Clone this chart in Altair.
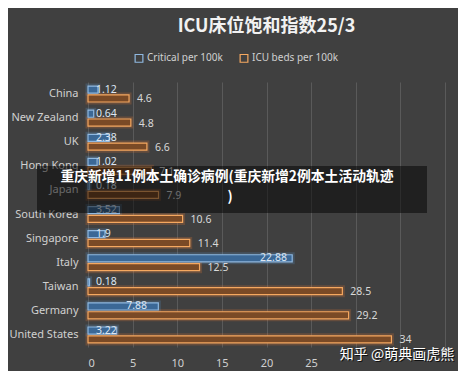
import altair as alt
import pandas as pd

countries = ["China", "New Zealand", "UK", "Hong Kong", "Japan", "South Korea",
             "Singapore", "Italy", "Taiwan", "Germany", "United States"]
critical = [1.12, 0.64, 2.38, 1.02, 0.18, 3.52, 1.9, 22.88, 0.18, 7.88, 3.22]
icu_beds = [4.6, 4.8, 6.6, 7.1, 7.9, 10.6, 11.4, 12.5, 28.5, 29.2, 34]
series_names = ["Critical per 100k", "ICU beds per 100k"]
x_ticks = [0, 5, 10, 15, 20, 25, 30, 35, 40]
title_text = "ICU床位饱和指数25/3"
banner_line1 = "重庆新增11例本土确诊病例(重庆新增2例本土活动轨迹"
banner_line2 = ")"
watermark = "知乎 @萌典画虎熊"

rows = []
for c, v in zip(countries, critical):
    rows.append({"country": c, "series": series_names[0], "value": v})
for c, v in zip(countries, icu_beds):
    rows.append({"country": c, "series": series_names[1], "value": v})
df = pd.DataFrame(rows)

BG = "#404040"
FONT = "Noto Sans"
CJK = "Noto Sans CJK SC"

x_enc = alt.X("value:Q", scale=alt.Scale(domain=[0, 40], nice=False),
              axis=alt.Axis(values=x_ticks, title=None, grid=True, gridColor="#5a5a5a",
                            domain=False, ticks=False, labelColor="#d0d0d0",
                            labelFontSize=11, labelFont=FONT, labelPadding=10,
                            labelExpr="datum.value >= 30 ? '' : datum.label"))
y_enc = alt.Y("country:N", sort=countries,
              scale=alt.Scale(paddingInner=0.34, paddingOuter=0.17),
              axis=alt.Axis(title=None, domain=False, ticks=False, grid=False,
                            labelColor="#d0d0d0", labelFontSize=11, labelFont=FONT,
                            labelPadding=10))
yoff = alt.YOffset("series:N", sort=series_names,
                   scale=alt.Scale(domain=series_names, paddingInner=0.2))

base = alt.Chart(df)

glow = base.mark_bar(fillOpacity=0, strokeWidth=5, strokeOpacity=0.22).encode(
    x=x_enc, y=y_enc, yOffset=yoff,
    stroke=alt.Stroke("series:N", scale=alt.Scale(domain=series_names,
                                                  range=["#5b9bd5", "#ed7d31"]),
                      legend=None),
)

bars = base.mark_bar(strokeWidth=1.2).encode(
    x=x_enc, y=y_enc, yOffset=yoff,
    fill=alt.Fill("series:N", scale=alt.Scale(domain=series_names,
                                              range=["#3b6896", "#7a4a26"]),
                  legend=None),
    stroke=alt.Stroke("series:N", scale=alt.Scale(domain=series_names,
                                                  range=["#8fb8e0", "#f5a860"]),
                      legend=alt.Legend(title=None, orient="none", direction="horizontal",
                                        legendX=46, legendY=-29, symbolType="square",
                                        symbolSize=60, symbolFillColor=BG,
                                        symbolStrokeWidth=1.2,
                                        labelColor="#d0d0d0", labelFontSize=10,
                                        labelFont=FONT, columnPadding=14,
                                        symbolOffset=0, labelOffset=3)),
)

crit_labels = base.transform_filter(
    alt.datum.series == series_names[0]
).transform_calculate(
    lx="max(datum.value - 3.6, 0.9)"
).mark_text(align="left", baseline="middle", color="#dde6f2", fontSize=10.5,
            font=FONT).encode(
    x=alt.X("lx:Q"), y=y_enc, yOffset=yoff, text=alt.Text("value:Q"),
)

icu_labels = base.transform_filter(
    alt.datum.series == series_names[1]
).mark_text(align="left", baseline="middle", dx=8, dy=1, color="#d9d9d9",
            fontSize=10.5, font=FONT).encode(
    x=x_enc, y=y_enc, yOffset=yoff, text=alt.Text("value:Q"),
)

one = alt.Chart(pd.DataFrame({"k": [0]}))

banner_rect = one.mark_rect(color="#000000", opacity=0.5).encode(
    x=alt.value(-51), x2=alt.value(339), y=alt.value(84), y2=alt.value(131))
banner_t1 = one.mark_text(color="#ffffff", fontSize=13.8, fontWeight="bold", font=CJK,
                          align="center", baseline="middle").encode(
    x=alt.value(139), y=alt.value(95), text=alt.value(banner_line1))
banner_t2 = one.mark_text(color="#ffffff", fontSize=13.8, fontWeight="bold", font=CJK,
                          align="center", baseline="middle").encode(
    x=alt.value(142), y=alt.value(115), text=alt.value(banner_line2))
wm_shadow = one.mark_text(color="#111111", fontSize=14, font=CJK,
                          align="center", baseline="middle").encode(
    x=alt.value(310), y=alt.value(274), text=alt.value(watermark))
wm = one.mark_text(color="#ffffff", fontSize=14, font=CJK,
                   align="center", baseline="middle").encode(
    x=alt.value(309), y=alt.value(273), text=alt.value(watermark))

chart = alt.layer(
    glow, bars, crit_labels, icu_labels,
    banner_rect, banner_t1, banner_t2, wm_shadow, wm
).resolve_scale(
    stroke="independent"
).properties(
    width=357, height=265,
    background=BG,
    padding={"left": 80, "top": 74, "right": 13, "bottom": 24},
    autosize=alt.AutoSizeParams(type="none"),
    title=alt.TitleParams(title_text, anchor="middle", color="#f2f2f2", fontSize=18,
                          fontWeight="bold", font=CJK, offset=17, frame="group"),
).configure_view(stroke=None)

chart.save("out.html", embed_options={"renderer": "svg", "actions": False})
